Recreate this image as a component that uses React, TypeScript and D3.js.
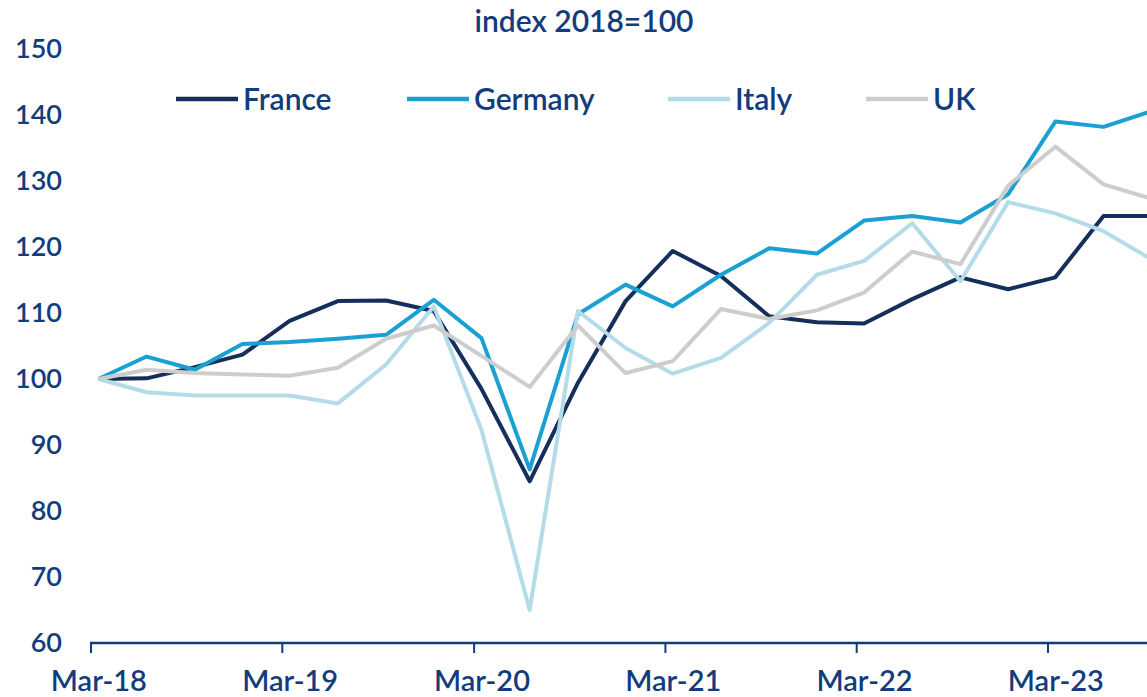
import { useMemo } from "react";
import * as d3 from "d3";

const width = 1147;
const height = 697;

// quarterly, Mar-18 .. Sep-23
const quarters = d3.range(23).map((i) => new Date(2018, 2 + i * 3, 15));

const france = [100, 100.1, 101.8, 103.7, 108.8, 111.8, 111.9, 110.3, 98.5, 84.5, 99.4, 111.8, 119.4, 115.6, 109.5, 108.6, 108.4, 112.1, 115.4, 113.6, 115.4, 124.7, 124.7];
const germany = [100, 103.4, 101.4, 105.3, 105.6, 106.1, 106.7, 112.0, 106.2, 86.3, 109.8, 114.3, 111.0, 115.8, 119.8, 119.0, 124.0, 124.7, 123.7, 128.0, 139.0, 138.2, 140.6];
const italy = [100, 98.0, 97.5, 97.5, 97.5, 96.3, 102.2, 111.0, 92.3, 65.0, 110.3, 104.7, 100.8, 103.2, 108.5, 115.8, 117.9, 123.6, 114.8, 126.8, 125.1, 122.4, 118.1];
const uk = [100, 101.4, 100.9, 100.7, 100.5, 101.7, 106.1, 108.1, 103.5, 98.8, 108.1, 100.9, 102.7, 110.6, 109.1, 110.4, 113.1, 119.3, 117.4, 129.3, 135.2, 129.5, 127.3];

const seriesNames = ["France", "Germany", "Italy", "UK"];
const seriesValues = [france, germany, italy, uk];
const colors = ["#142f5c", "#1aa0d3", "#b4dbe8", "#cdcdcd"];

const yTicks = [60, 70, 80, 90, 100, 110, 120, 130, 140, 150];
const xTickYears = [2018, 2019, 2020, 2021, 2022, 2023];

const legendX = [176, 407, 668, 866];

const textColor = "#123d7d";
const font = "Lato, 'Open Sans', sans-serif";

const App = () => {
  const x = useMemo(
    () =>
      d3
        .scaleTime()
        .domain([new Date(2018, 2, 1), new Date(2023, 2, 1)])
        .range([91, 1048]),
    []
  );
  const y = d3.scaleLinear().domain([60, 150]).range([643, 49]);
  const fmt = d3.timeFormat("%b-%y");
  const xTicks = xTickYears.map((yr) => new Date(yr, 2, 1));

  const line = d3
    .line<number>()
    .x((_, i) => x(quarters[i]))
    .y((d) => y(d));

  return (
    <svg
      width={width}
      height={height}
      style={{ position: "absolute", left: 0, top: 0, overflow: "hidden" }}
      fontFamily={font}
      fontWeight={600}
    >
      <rect width={width} height={height} fill="#fff" />
      <text x={584} y={32} textAnchor="middle" fontSize={30} fill={textColor}>
        index 2018=100
      </text>

      {yTicks.map((t) => (
        <text
          key={t}
          x={62}
          y={y(t)}
          dy="0.35em"
          textAnchor="end"
          fontSize={27}
          fill={textColor}
        >
          {t}
        </text>
      ))}

      <line x1={90} x2={width + 10} y1={643} y2={643} stroke={textColor} strokeWidth={2.5} />
      {xTicks.map((t) => (
        <g key={t.getTime()}>
          <line x1={x(t)} x2={x(t)} y1={643} y2={653} stroke={textColor} strokeWidth={2} />
          <text
            x={x(d3.timeDay.offset(t, 15))}
            y={691}
            textAnchor="middle"
            fontSize={29}
            fill={textColor}
          >
            {fmt(t)}
          </text>
        </g>
      ))}

      {seriesValues.map((vals, k) => (
        <path
          key={seriesNames[k]}
          d={line(vals) ?? ""}
          fill="none"
          stroke={colors[k]}
          strokeWidth={4}
          strokeLinejoin="round"
        />
      ))}

      {seriesNames.map((name, k) => (
        <g key={name} transform={`translate(${legendX[k]},99)`}>
          <line x1={0} x2={62} stroke={colors[k]} strokeWidth={4.5} />
          <text x={67} dy="0.35em" fontSize={30} fill={textColor}>
            {name}
          </text>
        </g>
      ))}
    </svg>
  );
};

export default App;
